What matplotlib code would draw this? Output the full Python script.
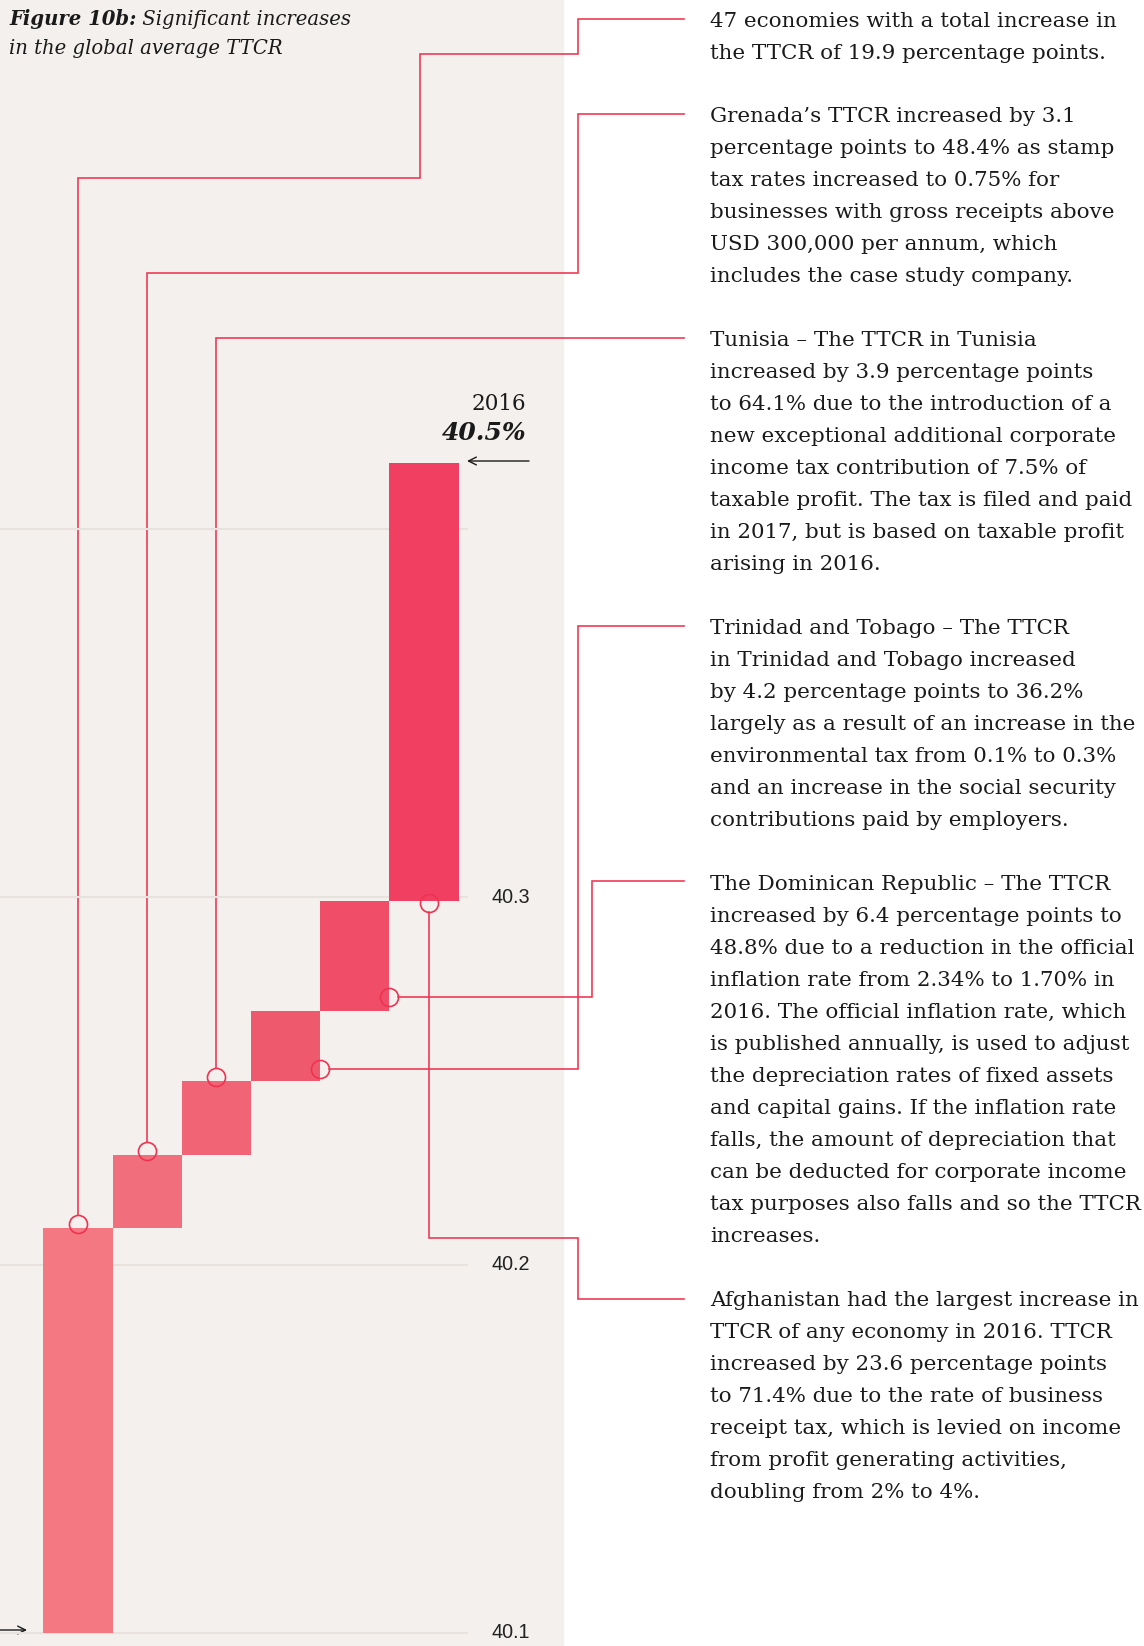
import matplotlib.pyplot as plt
import numpy as np

# ===== DATA =====
base_value = 40.1
bar_tops = [40.210, 40.230, 40.250, 40.269, 40.299, 40.418]
bar_colors = ["#f47882", "#f16f7c", "#f06476", "#ef596e", "#f04d69", "#f13f62"]
grid_values = [40.1, 40.2, 40.3, 40.4]
tick_labels = ["40.1", "40.2", "40.3"]

# marker points the notes point at (bar index, TTCR value)
marker_x = [0.0, 1.0, 2.0, 3.5, 4.5, 5.07]
marker_y = [40.2111, 40.2311, 40.2512, 40.2532, 40.2727, 40.2985]

title_bold = "Figure 10b:"
title_rest = " Significant increases"
title_line2 = "in the global average TTCR"
year_label = "2016"
year_value = "40.5%"

notes = [
    ["47 economies with a total increase in",
     "the TTCR of 19.9 percentage points."],
    ["Grenada\u2019s TTCR increased by 3.1",
     "percentage points to 48.4% as stamp",
     "tax rates increased to 0.75% for",
     "businesses with gross receipts above",
     "USD 300,000 per annum, which",
     "includes the case study company."],
    ["Tunisia \u2013 The TTCR in Tunisia",
     "increased by 3.9 percentage points",
     "to 64.1% due to the introduction of a",
     "new exceptional additional corporate",
     "income tax contribution of 7.5% of",
     "taxable profit. The tax is filed and paid",
     "in 2017, but is based on taxable profit",
     "arising in 2016."],
    ["Trinidad and Tobago \u2013 The TTCR",
     "in Trinidad and Tobago increased",
     "by 4.2 percentage points to 36.2%",
     "largely as a result of an increase in the",
     "environmental tax from 0.1% to 0.3%",
     "and an increase in the social security",
     "contributions paid by employers."],
    ["The Dominican Republic \u2013 The TTCR",
     "increased by 6.4 percentage points to",
     "48.8% due to a reduction in the official",
     "inflation rate from 2.34% to 1.70% in",
     "2016. The official inflation rate, which",
     "is published annually, is used to adjust",
     "the depreciation rates of fixed assets",
     "and capital gains. If the inflation rate",
     "falls, the amount of depreciation that",
     "can be deducted for corporate income",
     "tax purposes also falls and so the TTCR",
     "increases."],
    ["Afghanistan had the largest increase in",
     "TTCR of any economy in 2016. TTCR",
     "increased by 23.6 percentage points",
     "to 71.4% due to the rate of business",
     "receipt tax, which is levied on income",
     "from profit generating activities,",
     "doubling from 2% to 4%."],
]

# ===== LAYOUT (pixels) =====
W, H = 1144, 1646
PANEL_W = 563
NOTE_X = 710
NOTE_Y = [19, 114, 338, 626, 882, 1298]
LINE_H = 32
RED = "#ee3350"
SERIF = "DejaVu Serif"

fig = plt.figure(figsize=(W / 100, H / 100), dpi=100)

# overlay in pixel coords for panel, notes and leader lines
ov = fig.add_axes([0, 0, 1, 1])
ov.set_xlim(0, W)
ov.set_ylim(H, 0)
ov.axis("off")
ov.add_patch(plt.Rectangle((0, 0), PANEL_W, H, color="#f3f0ed", zorder=0))

# data axes for the waterfall
ax = fig.add_axes([0, 0, 468 / W, 1])
ax.patch.set_alpha(0)
ax.set_xlim(-78 / 69.2, (468 - 78) / 69.2)
ax.set_ylim(base_value - 13 / 3680, base_value + 1633 / 3680)
ax.axis("off")

for g in grid_values:
    ax.axhline(g, color="#e7e2de", lw=1.5, zorder=1)

bottoms = [base_value] + bar_tops[:-1]
heights = np.array(bar_tops) - np.array(bottoms)
ax.bar(range(len(bar_tops)), heights, bottom=bottoms, width=1.0,
       color=bar_colors, zorder=2)
ax.plot(marker_x, marker_y, "o", ms=13, mfc="none", mec=RED, mew=1.2, zorder=4)

for g, lab in zip(grid_values, tick_labels):
    ax.annotate(lab, (1, g), xycoords=("axes fraction", "data"),
                xytext=(23, 0), textcoords="offset pixels",
                fontsize=14.2, family="Liberation Sans", color="#222222",
                va="center", ha="left")


def to_px(x, y):
    px, py = ax.transData.transform((x, y))
    return px, H - py


R = 9
pts = [to_px(x, y) for x, y in zip(marker_x, marker_y)]

# leader line routes: list of waypoints after the marker
routes = [
    ("up", [(None, 178), (420, 178), (420, 54), (578, 54), (578, 19), (684, 19)]),
    ("up", [(None, 273), (578, 273), (578, 114), (684, 114)]),
    ("up", [(None, 338), (684, 338)]),
    ("right", [(578, None), (578, 626), (684, 626)]),
    ("right", [(592, None), (592, 881), (684, 881)]),
    ("down", [(None, 1238), (578, 1238), (578, 1299), (684, 1299)]),
]
for (cx, cy), (d, way) in zip(pts, routes):
    if d == "up":
        start = (cx, cy - R)
    elif d == "down":
        start = (cx, cy + R)
    else:
        start = (cx + R, cy)
    xs, ys = [start[0]], [start[1]]
    for wx, wy in way:
        xs.append(xs[-1] if wx is None else wx)
        ys.append(ys[-1] if wy is None else wy)
    ov.plot(xs, ys, color=RED, lw=1.15, solid_joinstyle="miter", zorder=3)

# notes
for y0, block in zip(NOTE_Y, notes):
    for i, line in enumerate(block):
        ov.text(NOTE_X, y0 + 8 + i * LINE_H, line, fontsize=15.4, family=SERIF,
                color="#1a1a1a", va="baseline", ha="left")

# title
t1 = ov.text(9, 25, title_bold, fontsize=14.1, family=SERIF, style="italic",
             weight="bold", color="#1a1a1a", va="baseline", ha="left")
ov.annotate(title_rest, xy=(1, 0), xycoords=t1, va="bottom", ha="left",
            fontsize=14.1, family=SERIF, style="italic", color="#1a1a1a")
ov.text(9, 54, title_line2, fontsize=14.1, family=SERIF, style="italic",
        color="#1a1a1a", va="baseline", ha="left")

# end label and arrows
ov.text(526, 410, year_label, fontsize=15.5, family=SERIF, color="#1a1a1a",
        va="baseline", ha="right")
ov.text(526, 440, year_value, fontsize=18, family=SERIF, style="italic",
        weight="bold", color="#1a1a1a", va="baseline", ha="right")
ov.annotate("", xy=(467, 461), xytext=(529, 461),
            arrowprops=dict(arrowstyle="->", color="#1a1a1a", lw=1.0,
                            shrinkA=0, shrinkB=0, mutation_scale=14))
ov.annotate("", xy=(27, 1630), xytext=(0, 1630),
            arrowprops=dict(arrowstyle="->", color="#1a1a1a", lw=1.0,
                            shrinkA=0, shrinkB=0, mutation_scale=14))

fig.savefig("out.png", dpi=100)
